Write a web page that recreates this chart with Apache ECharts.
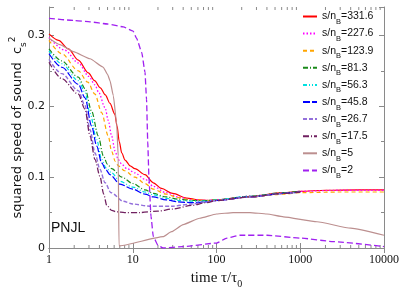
<!DOCTYPE html>
<html>
<head>
<meta charset="utf-8">
<script src="https://cdn.jsdelivr.net/npm/echarts@6/dist/echarts.min.js"></script>
<style>html,body{margin:0;padding:0;background:#fff}#c{width:407px;height:288px}</style>
</head>
<body>
<div id="c"></div>
<script>
// ---- data: [time tau/tau0, c_s^2] ----
const names = ['331.6','227.6','123.9','81.3','56.3','45.8','26.7','17.5','5','2'];
const s331 = [[1,0.302],[1.3,0.293],[1.7,0.281],[2.24,0.265],[2.95,0.247],[3.5,0.236],[4.1,0.226],[4.7,0.216],[5.35,0.204],[6.1,0.189],[6.5,0.172],[6.9,0.15],[7.4,0.134],[8.1,0.124],[9.3,0.116],[10.6,0.112],[14,0.1035],[17.6,0.092],[22,0.084],[30,0.077],[44,0.0705],[60,0.068],[80,0.067],[100,0.068],[190,0.071],[250,0.073],[630,0.078],[1000,0.080],[2000,0.0815],[5000,0.082],[10000,0.082]];
const s227 = [[1,0.297],[1.55,0.279],[2.24,0.261],[3,0.242],[3.54,0.230],[3.9,0.220],[4.67,0.198],[5.1,0.180],[5.6,0.158],[6.14,0.137],[6.7,0.125],[7.4,0.118],[8.5,0.112],[10.6,0.106],[14,0.097],[17.6,0.087],[25,0.078],[35,0.072],[50,0.068],[76,0.067],[100,0.068],[250,0.073],[630,0.077],[1000,0.080],[3000,0.0815],[10000,0.0815]];
const s123 = [[1,0.293],[1.42,0.274],[2.24,0.250],[2.9,0.234],[3.54,0.217],[4.25,0.191],[5.1,0.158],[5.6,0.136],[6.2,0.122],[6.7,0.116],[8,0.109],[10.6,0.100],[14,0.091],[17.6,0.083],[25,0.076],[35,0.071],[50,0.068],[76,0.067],[100,0.068],[250,0.072],[630,0.076],[1000,0.078],[3000,0.079],[10000,0.079]];
const s81 = [[1,0.281],[1.42,0.264],[2.24,0.241],[2.69,0.225],[3.23,0.193],[3.88,0.158],[4.45,0.130],[5.0,0.118],[5.6,0.112],[7.4,0.100],[10,0.091],[14,0.082],[17.6,0.077],[25,0.072],[35,0.069],[50,0.067],[76,0.067],[100,0.068],[250,0.073],[630,0.078],[1000,0.080]];
const s56 = [[1,0.278],[1.42,0.260],[2.24,0.236],[2.69,0.220],[3.09,0.190],[3.71,0.153],[4.25,0.125],[4.8,0.113],[5.6,0.106],[7.04,0.094],[10,0.086],[14,0.079],[17.6,0.075],[25,0.070],[35,0.067],[50,0.066],[76,0.066],[100,0.068],[250,0.073],[630,0.077],[1000,0.079]];
const s45 = [[1,0.274],[1.42,0.255],[2.24,0.231],[2.69,0.212],[3.23,0.172],[3.71,0.144],[4.25,0.120],[4.8,0.110],[5.35,0.1035],[7.04,0.090],[10,0.083],[14,0.076],[17.6,0.072],[25,0.068],[35,0.065],[50,0.064],[76,0.065],[100,0.067],[250,0.072],[630,0.077],[1000,0.079]];
const s26 = [[1,0.266],[1.42,0.246],[2.24,0.222],[2.69,0.201],[3.09,0.167],[3.54,0.134],[4.06,0.111],[4.67,0.092],[5.5,0.078],[7.7,0.066],[10,0.062],[16,0.059],[30,0.059],[50,0.062],[76,0.065],[100,0.067],[250,0.072],[630,0.077],[1000,0.079]];
const s17 = [[1,0.262],[1.42,0.239],[2.24,0.217],[2.69,0.196],[3.09,0.158],[3.54,0.125],[4.06,0.101],[4.5,0.076],[4.9,0.060],[5.6,0.053],[6.43,0.051],[8,0.050],[12,0.050],[20,0.052],[30,0.055],[50,0.060],[76,0.064],[100,0.067],[250,0.072],[630,0.077],[1000,0.079]];
const s5 = [[1,0.296],[1.35,0.287],[1.95,0.277],[3.09,0.267],[4.45,0.255],[5.0,0.245],[5.35,0.236],[5.86,0.215],[6.43,0.175],[6.7,0.13],[6.85,0.004],[7.0,0.003],[23,0.016],[29,0.023],[40,0.033],[63,0.042],[100,0.048],[158,0.050],[251,0.050],[400,0.048],[630,0.044],[1585,0.037],[4000,0.028],[10000,0.018]];
const s2 = [[1,0.324],[2,0.321],[3.09,0.319],[5,0.316],[7.7,0.312],[10.1,0.306],[11.1,0.296],[12.8,0.276],[14,0.248],[14.6,0.21],[15.1,0.15],[15.6,0.10],[16.5,0.045],[17.6,0.016],[20,0.004],[23,0.0],[40,0.002],[100,0.007],[133,0.014],[190,0.018],[400,0.018],[1000,0.014],[2500,0.009],[10000,0.002]];
const seriesData = [s331,s227,s123,s81,s56,s45,s26,s17,s5,s2];
const xTicks = ['1','10','100','1000','10000'];
const yTicks = ['0','0.1','0.2','0.3'];

// ---- styles ----
const colors = ['#ff0000','#ff00ff','#ffa500','#1a8a1a','#00e0e0','#0000ff','#9370db','#702060','#bc8f8f','#a020f0'];
const dashes = ['solid',[1.5,2],[4,3],[5,2,1,2],[4,2,1,2,1,2],[7,2],[4,2],[6,2,1,2],'solid',[6,3]];
const widths = [1.2,1.3,1.2,1.2,1.2,1.2,1.4,1.3,1.2,1.3];
const smooths = [0.3,0.3,0.3,0.3,0.3,0.3,0.3,0.3,0.15,0.15];

const minorVals = [];
[1,10,100,1000].forEach(d => { for (let k = 2; k <= 9; k++) minorVals.push([d*k, 0]); });

const chart = echarts.init(document.getElementById('c'));
const axisColor = '#8a8a8a';
const series = seriesData.map((d, i) => ({
  name: names[i], type: 'line', data: d, showSymbol: false, symbol: 'none',
  smooth: smooths[i], smoothMonotone: 'x',
  lineStyle: { color: colors[i], width: widths[i], type: dashes[i] },
  itemStyle: { color: colors[i] },
  emphasis: { disabled: true }, animation: false, z: 3
}));
series.push({
  type: 'custom', name: 'minor', data: minorVals, silent: true, animation: false,
  encode: { x: 0, y: 1 }, clip: false, z: 1,
  renderItem: (params, api) => {
    const v = api.value(0);
    const b = api.coord([v, 0]);
    const t = api.coord([v, 0.34]);
    return { type: 'group', children: [
      { type: 'line', shape: { x1: b[0], y1: b[1], x2: b[0], y2: b[1] - 3 }, style: { stroke: axisColor, lineWidth: 1 } },
      { type: 'line', shape: { x1: t[0], y1: t[1], x2: t[0], y2: t[1] + 3 }, style: { stroke: axisColor, lineWidth: 1 } }
    ]};
  }
});

chart.setOption({
  animation: false,
  grid: { left: 49, right: 23, top: 7, bottom: 40, containLabel: false, outerBoundsMode: 'none' },
  legend: {
    data: names, orient: 'vertical', left: 297, top: 6, itemWidth: 14, itemHeight: 10, itemGap: 2.1,
    itemStyle: { opacity: 0 },
    formatter: n => '{a|s/n}{b|B}{a|=' + n + '}',
    textStyle: { fontFamily: 'Liberation Sans', fontSize: 10, color: '#111',
      rich: { a: { fontFamily: 'Liberation Sans', fontSize: 10.5, lineHeight: 13, color: '#111' },
              b: { fontFamily: 'Liberation Sans', fontSize: 7.5, lineHeight: 13, verticalAlign: 'bottom', padding: [0,0,-3,0], color: '#111' } } }
  },
  xAxis: [{
    type: 'log', logBase: 10, min: 1, max: 10000,
    name: '{a|time τ/τ}{b|0}', nameLocation: 'middle', nameGap: 16,
    nameTextStyle: { rich: { a: { fontFamily: 'Liberation Serif', fontSize: 15, color: '#111' }, b: { fontFamily: 'Liberation Serif', fontSize: 10, verticalAlign: 'bottom', padding: [0,0,-3,0], color: '#111' } } },
    axisLine: { lineStyle: { color: axisColor } },
    axisTick: { inside: true, length: 5, lineStyle: { color: axisColor } },
    axisLabel: { fontFamily: 'Liberation Serif', fontSize: 12, color: '#111', margin: 6,
      formatter: v => { const i = Math.round(Math.log10(v)); return xTicks[i] !== undefined ? xTicks[i] : ''; } },
    splitLine: { show: false }
  }, {
    type: 'log', logBase: 10, min: 1, max: 10000, position: 'top',
    axisLine: { lineStyle: { color: axisColor } },
    axisTick: { inside: true, length: 5, lineStyle: { color: axisColor } },
    axisLabel: { show: false }, splitLine: { show: false }
  }],
  yAxis: [{
    type: 'value', min: 0, max: 0.34, interval: 0.1,
    name: '{a|squared speed of sound  c}{s|s}{p|2}', nameLocation: 'middle', nameRotate: 90, nameGap: 21, nameMoveOverlap: false,
    nameTextStyle: { rich: {
      a: { fontFamily: 'DejaVu Sans', fontSize: 13, lineHeight: 20, verticalAlign: 'middle', color: '#111' },
      s: { fontFamily: 'DejaVu Sans', fontSize: 9, lineHeight: 20, verticalAlign: 'bottom', color: '#111' },
      p: { fontFamily: 'DejaVu Sans', fontSize: 9, lineHeight: 20, verticalAlign: 'top', color: '#111' } } },
    axisLine: { show: true, lineStyle: { color: axisColor } },
    axisTick: { inside: true, length: 5, lineStyle: { color: axisColor } },
    minorTick: { show: true, splitNumber: 2, length: 3, lineStyle: { color: axisColor } },
    axisLabel: { fontFamily: 'DejaVu Sans', fontSize: 11, color: '#111', margin: 4, showMaxLabel: false,
      formatter: v => { const i = Math.round(v * 10); return Math.abs(v*10 - i) < 1e-6 && yTicks[i] !== undefined ? yTicks[i] : ''; } },
    splitLine: { show: false }
  }, {
    type: 'value', min: 0, max: 0.34, interval: 0.1, position: 'right',
    axisLine: { show: true, lineStyle: { color: axisColor } },
    axisTick: { inside: true, length: 5, lineStyle: { color: axisColor } },
    minorTick: { show: true, splitNumber: 2, length: 3, lineStyle: { color: axisColor } },
    axisLabel: { show: false }, splitLine: { show: false }
  }],
  graphic: [{ type: 'text', left: 51, top: 221, style: { text: 'PNJL', fontFamily: 'Liberation Sans', fontSize: 14, fill: '#111' } }],
  series: series
});
</script>
</body>
</html>
